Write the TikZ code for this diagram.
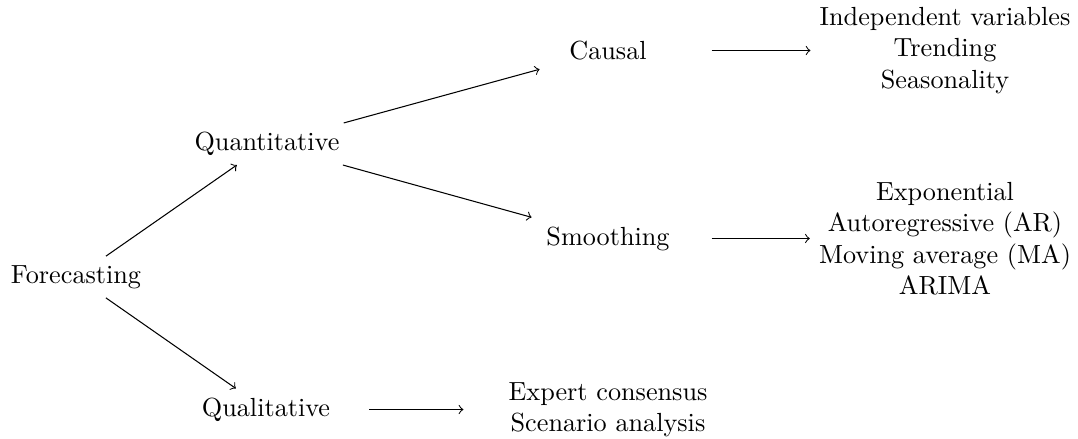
\documentclass[tikz,border=0pt]{standalone}
\begin{document}
\begin{tikzpicture}[x=0.3817pt,y=-0.3817pt,
  lbl/.style={align=center},
  wide/.style={lbl,minimum width=78.6pt},
  conn/.style={->}]
\useasboundingbox (0,0) rectangle (1078,438);
\node[lbl] (fc) at (76,277) {Forecasting};
\node[lbl] (qn) at (267,144) {Quantitative};
\node[wide] (ql) at (266,409.5) {Qualitative};
\node[wide] (ca) at (608,50.5) {Causal};
\node[wide] (sm) at (608,238.5) {Smoothing};
\node[lbl,minimum width=110pt] (ex) at (608,409.5) {Expert consensus\\Scenario analysis};
\node[lbl] (cl) at (945,50.5) {Independent variables\\Trending\\Seasonality};
\node[lbl] (sl) at (945,238.5) {Exponential\\Autoregressive (AR)\\Moving average (MA)\\ARIMA};
\draw[conn] (fc) -- (qn);
\draw[conn] (fc) -- (ql);
\draw[conn] (qn) -- (ca);
\draw[conn] (qn) -- (sm);
\draw[conn] (ca) -- (cl);
\draw[conn] (sm) -- (sl);
\draw[conn] (ql) -- (ex);
\end{tikzpicture}
\end{document}
